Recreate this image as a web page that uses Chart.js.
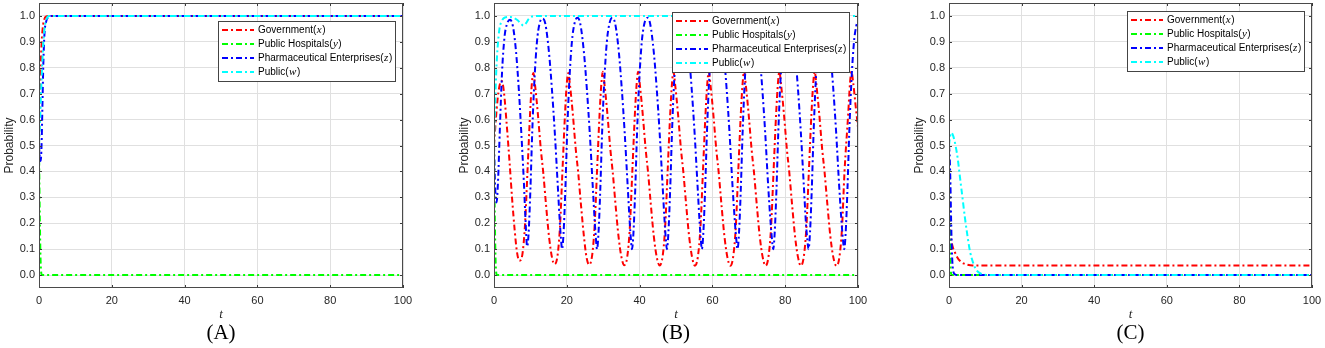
<!DOCTYPE html>
<html><head><meta charset="utf-8">
<script src="https://cdn.jsdelivr.net/npm/chart.js@4.4.1/dist/chart.umd.min.js"></script>
<style>
html,body{margin:0;padding:0;background:#fff;}
body{width:1325px;height:348px;position:relative;overflow:hidden;}
canvas{position:absolute;top:0;}
</style></head><body>
<canvas id="cA" width="440" height="348" style="left:0px"></canvas>
<canvas id="cB" width="440" height="348" style="left:440px"></canvas>
<canvas id="cC" width="445" height="348" style="left:880px"></canvas>
<script>
// ---------- labels / ticks ----------
const seriesLabels = ['Government(x)', 'Public Hospitals(y)', 'Pharmaceutical Enterprises(z)', 'Public(w)'];
const seriesColors = ['#ff0000', '#00ff00', '#0000ff', '#00ffff'];
const xTicks = [0, 20, 40, 60, 80, 100];
const yTicks = [0, 0.1, 0.2, 0.3, 0.4, 0.5, 0.6, 0.7, 0.8, 0.9, 1.0];
const captions = ['(A)', '(B)', '(C)'];

// ---------- Panel A ----------
const A_gov_t   = [0, 0.2, 0.4, 0.7, 1.0, 1.4, 2.0, 3.0, 100];
const A_gov_y   = [0.5, 0.66, 0.78, 0.89, 0.95, 0.985, 0.998, 1.0, 1.0];
const A_hosp_t  = [0, 0.15, 0.3, 0.45, 0.6, 0.8, 100];
const A_hosp_y  = [0.5, 0.3, 0.15, 0.05, 0.01, 0.0, 0.0];
const A_pharm_t = [0, 0.2, 0.45, 0.7, 0.95, 1.2, 1.5, 2.0, 2.5, 3.2, 100];
const A_pharm_y = [0.5, 0.455, 0.44, 0.5, 0.66, 0.82, 0.93, 0.98, 0.995, 1.0, 1.0];
const A_pub_t   = [0, 0.3, 0.6, 0.9, 1.2, 1.6, 2.1, 2.8, 100];
const A_pub_y   = [0.5, 0.6, 0.72, 0.82, 0.9, 0.96, 0.99, 1.0, 1.0];

// ---------- Panel B ----------
const B_gov_t = [
  0, 0.5, 1.0, 1.5, 2.1, 2.7, 3.5, 4.3, 5.0, 5.7, 6.3, 7.0,
  7.8, 8.5, 9.2, 9.9, 10.4, 10.8, 11.3, 12.0, 12.9, 13.5, 14.3, 15.1, 15.9, 16.6,
  17.4, 18.1, 18.8, 19.5, 20.0, 20.4, 20.9, 21.6, 22.5, 23.1, 23.9, 24.7, 25.4, 26.1,
  26.9, 27.6, 28.3, 29.0, 29.5, 29.9, 30.4, 31.1, 32.0, 32.6, 33.4, 34.2, 35.0, 35.8,
  36.6, 37.3, 38.0, 38.7, 39.2, 39.6, 40.1, 40.8, 41.7, 42.3, 43.1, 43.9, 44.7, 45.5,
  46.3, 47.0, 47.7, 48.4, 48.9, 49.3, 49.8, 50.5, 51.4, 52.0, 52.8, 53.6, 54.4, 55.2,
  56.0, 56.7, 57.4, 58.1, 58.6, 59.0, 59.5, 60.2, 61.1, 61.7, 62.5, 63.3, 64.1, 64.9,
  65.7, 66.4, 67.1, 67.8, 68.3, 68.7, 69.2, 69.9, 70.8, 71.4, 72.2, 73.0, 73.8, 74.6,
  75.4, 76.1, 76.8, 77.5, 78.0, 78.4, 78.9, 79.6, 80.5, 81.1, 81.9, 82.7, 83.5, 84.3,
  85.1, 85.8, 86.5, 87.2, 87.7, 88.1, 88.6, 89.3, 90.2, 90.8, 91.6, 92.4, 93.2, 94.1,
  94.9, 95.6, 96.3, 97.3, 97.8, 98.2, 98.7, 99.3, 100
];
const B_gov_y = [
  0.5, 0.6, 0.68, 0.73, 0.75, 0.71, 0.58, 0.43, 0.29, 0.17, 0.09, 0.055,
  0.08, 0.19, 0.4, 0.62, 0.74, 0.78, 0.73, 0.63, 0.48, 0.4, 0.27, 0.15, 0.07, 0.042,
  0.07, 0.18, 0.4, 0.62, 0.74, 0.78, 0.73, 0.63, 0.48, 0.4, 0.27, 0.15, 0.07, 0.04,
  0.07, 0.18, 0.4, 0.62, 0.74, 0.785, 0.73, 0.63, 0.48, 0.4, 0.27, 0.15, 0.07, 0.038,
  0.07, 0.18, 0.4, 0.62, 0.74, 0.785, 0.73, 0.63, 0.48, 0.4, 0.27, 0.15, 0.07, 0.037,
  0.07, 0.18, 0.4, 0.62, 0.74, 0.785, 0.73, 0.63, 0.48, 0.4, 0.27, 0.15, 0.07, 0.036,
  0.07, 0.18, 0.4, 0.62, 0.74, 0.785, 0.73, 0.63, 0.48, 0.4, 0.27, 0.15, 0.07, 0.036,
  0.07, 0.18, 0.4, 0.62, 0.74, 0.785, 0.73, 0.63, 0.48, 0.4, 0.27, 0.15, 0.07, 0.036,
  0.07, 0.18, 0.4, 0.62, 0.74, 0.785, 0.73, 0.63, 0.48, 0.4, 0.27, 0.15, 0.07, 0.036,
  0.07, 0.18, 0.4, 0.62, 0.74, 0.785, 0.73, 0.63, 0.48, 0.4, 0.27, 0.15, 0.07, 0.035,
  0.07, 0.18, 0.4, 0.62, 0.74, 0.785, 0.74, 0.66, 0.57
];
const B_hosp_t = [0, 0.15, 0.3, 0.45, 0.6, 0.8, 100];
const B_hosp_y = [0.5, 0.3, 0.15, 0.05, 0.01, 0.0, 0.0];
const B_pharm_t = [
  0, 0.3, 0.7, 1.1, 1.6, 2.2, 2.9, 3.6, 4.4, 5.2, 6.0, 6.8, 7.5, 8.2, 8.7, 9.1,
  9.5, 10.0, 10.5, 11.1, 11.8, 12.5, 13.3, 14.1, 15.1, 15.9, 16.7, 17.5, 18.1, 18.4, 18.7,
  19.1, 19.6, 20.1, 20.7, 21.4, 22.1, 22.9, 23.7, 24.7, 25.5, 26.3, 27.1, 27.7, 28.0, 28.3,
  28.7, 29.2, 29.7, 30.3, 31.0, 31.7, 32.5, 33.3, 34.3, 35.1, 35.9, 36.7, 37.3, 37.6, 37.9,
  38.3, 38.8, 39.3, 39.9, 40.6, 41.3, 42.1, 42.9, 43.9, 44.7, 45.5, 46.3, 46.9, 47.2, 47.5,
  47.9, 48.4, 48.9, 49.5, 50.2, 50.9, 51.7, 52.5, 53.5, 54.3, 55.1, 55.9, 56.5, 56.8, 57.1,
  57.5, 58.0, 58.5, 59.1, 59.8, 60.5, 61.3, 62.1, 63.1, 63.9, 64.7, 65.5, 66.2, 66.55, 66.9,
  67.3, 67.8, 68.3, 68.9, 69.6, 70.3, 71.1, 71.9, 72.9, 73.7, 74.5, 75.3, 76.0, 76.35, 76.7,
  77.1, 77.6, 78.1, 78.7, 79.4, 80.1, 80.9, 81.7, 82.7, 83.5, 84.3, 85.1, 85.7, 86.05, 86.4,
  86.8, 87.3, 87.8, 88.4, 89.1, 89.8, 90.6, 91.4, 92.4, 93.2, 94.0, 94.8, 95.5, 95.85, 96.2,
  96.6, 97.1, 97.6, 98.2, 98.9, 99.5, 100
];
const B_pharm_y = [
  0.5, 0.34, 0.28, 0.36, 0.56, 0.78, 0.92, 0.97, 0.985, 0.96, 0.87, 0.72, 0.55, 0.36, 0.2, 0.11,
  0.16, 0.33, 0.55, 0.75, 0.9, 0.97, 0.99, 0.97, 0.86, 0.72, 0.55, 0.35, 0.2, 0.14, 0.1,
  0.16, 0.33, 0.55, 0.75, 0.9, 0.97, 0.993, 0.97, 0.86, 0.72, 0.55, 0.35, 0.2, 0.14, 0.1,
  0.16, 0.33, 0.55, 0.75, 0.9, 0.97, 0.993, 0.97, 0.86, 0.72, 0.55, 0.35, 0.2, 0.14, 0.1,
  0.16, 0.33, 0.55, 0.75, 0.9, 0.97, 0.993, 0.97, 0.86, 0.72, 0.55, 0.35, 0.2, 0.14, 0.1,
  0.16, 0.33, 0.55, 0.75, 0.9, 0.97, 0.993, 0.97, 0.86, 0.72, 0.55, 0.35, 0.2, 0.14, 0.1,
  0.16, 0.33, 0.55, 0.75, 0.9, 0.97, 0.993, 0.97, 0.86, 0.72, 0.55, 0.35, 0.2, 0.14, 0.1,
  0.16, 0.33, 0.55, 0.75, 0.9, 0.97, 0.993, 0.97, 0.86, 0.72, 0.55, 0.35, 0.2, 0.14, 0.1,
  0.16, 0.33, 0.55, 0.75, 0.9, 0.97, 0.993, 0.97, 0.86, 0.72, 0.55, 0.35, 0.2, 0.14, 0.1,
  0.16, 0.33, 0.55, 0.75, 0.9, 0.97, 0.993, 0.97, 0.86, 0.72, 0.55, 0.35, 0.2, 0.14, 0.1,
  0.16, 0.33, 0.55, 0.75, 0.9, 0.96, 0.98
];
const B_pub_t = [0, 0.3, 0.6, 1.0, 1.5, 2.1, 3.0, 4.5, 5.5, 6.5, 7.3, 8.1, 8.8, 9.5, 10.3, 12, 100];
const B_pub_y = [0.5, 0.65, 0.78, 0.88, 0.95, 0.98, 0.994, 0.996, 0.992, 0.983, 0.971, 0.963, 0.972, 0.988, 0.997, 1.0, 1.0];

// ---------- Panel C ----------
const C_gov_t   = [0, 0.1, 0.25, 0.5, 0.75, 1.1, 1.65, 2.3, 3.0, 4.0, 5.0, 6.5, 100];
const C_gov_y   = [0.5, 0.32, 0.2, 0.15, 0.125, 0.105, 0.087, 0.068, 0.055, 0.045, 0.04, 0.037, 0.037];
const C_hosp_t  = [0, 0.15, 0.3, 0.5, 0.7, 100];
const C_hosp_y  = [0.5, 0.3, 0.12, 0.02, 0.0, 0.0];
const C_pharm_t = [0, 0.2, 0.4, 0.6, 0.8, 1.0, 1.3, 2.0, 100];
const C_pharm_y = [0.5, 0.45, 0.35, 0.2, 0.09, 0.035, 0.008, 0.0, 0.0];
const C_pub_t   = [0, 0.3, 0.7, 1.2, 1.8, 2.4, 3.0, 3.7, 4.4, 5.1, 5.8, 6.7, 7.6, 9.0, 11, 100];
const C_pub_y   = [0.5, 0.535, 0.549, 0.535, 0.5, 0.45, 0.38, 0.3, 0.22, 0.15, 0.09, 0.045, 0.018, 0.004, 0.0, 0.0];

// ---------- drawing helpers ----------
const SANS = '"Liberation Sans", Arial, sans-serif';
const SERIF = '"Liberation Serif", "Times New Roman", serif';

const framePlugin = {
  id: 'matFrame',
  afterDatasetsDraw(chart, args, opts) {
    const ctx = chart.ctx, a = chart.chartArea, sx = chart.scales.x, sy = chart.scales.y;
    ctx.save();
    ctx.strokeStyle = '#3a3a3a'; ctx.lineWidth = 1; ctx.setLineDash([]);
    ctx.beginPath();
    sx.ticks.forEach(t => {
      const px = Math.round(sx.getPixelForValue(t.value)) + 0.5;
      ctx.moveTo(px, a.bottom); ctx.lineTo(px, a.bottom - 3);
      ctx.moveTo(px, a.top); ctx.lineTo(px, a.top + 3);
    });
    sy.ticks.forEach(t => {
      const py = Math.round(sy.getPixelForValue(t.value)) + 0.5;
      ctx.moveTo(a.left, py); ctx.lineTo(a.left + 3, py);
      ctx.moveTo(a.right, py); ctx.lineTo(a.right - 3, py);
    });
    ctx.stroke();
    ctx.strokeStyle = '#4a4a4a';
    ctx.strokeRect(Math.round(a.left) + 0.5, Math.round(a.top) + 0.5, Math.round(a.width) - 1, Math.round(a.height) - 1);

    // legend box
    const W = 177, H = 60;
    const x0 = Math.round(a.right - opts.right - W), y0 = Math.round(a.top + opts.top);
    ctx.fillStyle = '#fff'; ctx.fillRect(x0, y0, W, H);
    ctx.strokeStyle = '#444'; ctx.lineWidth = 1;
    ctx.strokeRect(x0 + 0.5, y0 + 0.5, W, H);
    chart.data.datasets.forEach((ds, i) => {
      const cy = y0 + 9 + i * 14;
      ctx.save();
      ctx.strokeStyle = ds.borderColor; ctx.lineWidth = 2; ctx.setLineDash(ds.borderDash);
      ctx.beginPath(); ctx.moveTo(x0 + 4, cy); ctx.lineTo(x0 + 36, cy); ctx.stroke();
      ctx.restore();
      const m = ds.label.match(/^(.*)\((.)\)$/);
      ctx.fillStyle = '#000'; ctx.textBaseline = 'middle'; ctx.textAlign = 'left';
      let x = x0 + 40;
      ctx.font = '10px ' + SANS;
      ctx.fillText(m[1] + '(', x, cy); x += ctx.measureText(m[1] + '(').width + 0.5;
      ctx.font = 'italic 11px ' + SERIF;
      ctx.fillText(m[2], x, cy); x += ctx.measureText(m[2]).width + 0.5;
      ctx.font = '10px ' + SANS;
      ctx.fillText(')', x, cy);
    });
    ctx.restore();
  }
};

function zeroPad(s) { s.paddingTop = 0; s.paddingBottom = 0; s.paddingLeft = 0; s.paddingRight = 0; }

function buildPanel(id, series, caption, padL, padR, legTop, legRight) {
  return new Chart(document.getElementById(id), {
    type: 'line',
    data: {
      datasets: series.map((s, i) => ({
        label: seriesLabels[i],
        data: s[0].map((t, k) => ({ x: t, y: s[1][k] })),
        borderColor: seriesColors[i],
        borderWidth: 2,
        borderDash: [6, 3, 2, 3],
        pointRadius: 0,
        fill: false,
        cubicInterpolationMode: 'monotone',
        order: 4 - i
      }))
    },
    options: {
      responsive: false, animation: false, devicePixelRatio: 1,
      layout: { padding: { left: padL, right: padR, top: 3, bottom: 0 } },
      plugins: {
        legend: { display: false },
        tooltip: { enabled: false },
        title: {
          display: true, text: caption, position: 'bottom', fullSize: false,
          font: { family: SERIF, size: 21, weight: 'normal' }, color: '#000',
          padding: { top: 0, bottom: 2 }
        },
        matFrame: { top: legTop, right: legRight }
      },
      scales: {
        x: {
          type: 'linear', min: 0, max: 100,
          afterBuildTicks: s => { s.ticks = xTicks.map(v => ({ value: v })); },
          afterFit: s => { s.height = 32.8; zeroPad(s); },
          grid: { color: '#e0e0e0', drawTicks: false },
          border: { display: false },
          ticks: { padding: 6, color: '#262626', font: { family: SANS, size: 11 }, maxRotation: 0, callback: v => String(v) },
          title: { display: true, text: 't', color: '#262626', font: { family: SERIF, style: 'italic', size: 13 }, padding: { top: 0, bottom: -2 } }
        },
        y: {
          type: 'linear', min: -0.05, max: 1.05,
          afterBuildTicks: s => { s.ticks = yTicks.map(v => ({ value: v })); },
          afterFit: s => { s.width = 39; zeroPad(s); },
          grid: { color: '#e0e0e0', drawTicks: false },
          border: { display: false },
          ticks: { padding: 4, color: '#262626', font: { family: SANS, size: 11 }, callback: v => Number(v).toFixed(1) },
          title: { display: true, text: 'Probability', color: '#262626', font: { family: SANS, size: 12 }, padding: { top: 2, bottom: 0 } }
        }
      }
    },
    plugins: [framePlugin]
  });
}

buildPanel('cA', [[A_gov_t, A_gov_y], [A_hosp_t, A_hosp_y], [A_pharm_t, A_pharm_y], [A_pub_t, A_pub_y]], captions[0], 0, 37, 18, 8);
buildPanel('cB', [[B_gov_t, B_gov_y], [B_hosp_t, B_hosp_y], [B_pharm_t, B_pharm_y], [B_pub_t, B_pub_y]], captions[1], 15, 22, 9, 9);
buildPanel('cC', [[C_gov_t, C_gov_y], [C_hosp_t, C_hosp_y], [C_pharm_t, C_pharm_y], [C_pub_t, C_pub_y]], captions[2], 30, 13, 8, 8);
</script>
</body></html>
